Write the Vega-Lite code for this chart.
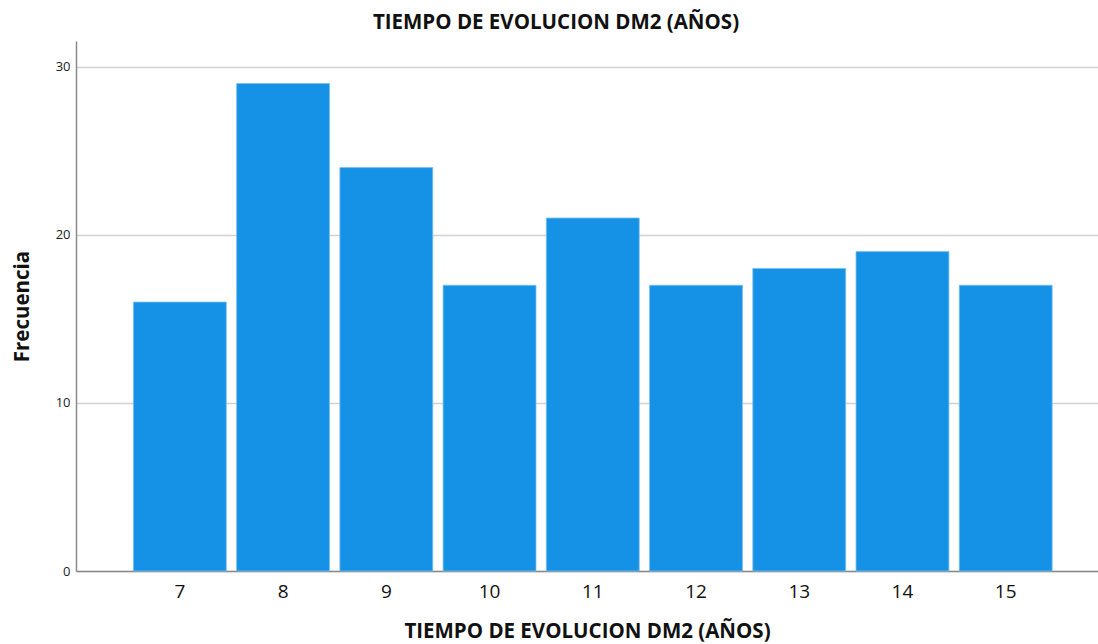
{
  "$schema": "https://vega.github.io/schema/vega-lite/v6.json",
  "width": 1022,
  "height": 530,
  "autosize": "none",
  "padding": {"left": 76, "top": 41, "right": 0, "bottom": 73},
  "background": "white",
  "title": {
    "text": "TIEMPO DE EVOLUCION DM2 (AÑOS)",
    "font": "Open Sans",
    "fontSize": 20.5,
    "fontWeight": "bold",
    "color": "#111111",
    "anchor": "middle",
    "dx": -31,
    "offset": 8
  },
  "data": {
    "values": [
      {"anios": "7", "frecuencia": 16},
      {"anios": "8", "frecuencia": 29},
      {"anios": "9", "frecuencia": 24},
      {"anios": "10", "frecuencia": 17},
      {"anios": "11", "frecuencia": 21},
      {"anios": "12", "frecuencia": 17},
      {"anios": "13", "frecuencia": 18},
      {"anios": "14", "frecuencia": 19},
      {"anios": "15", "frecuencia": 17}
    ]
  },
  "mark": {"type": "bar", "color": "#1591E6", "stroke": "#7cc0f0", "strokeWidth": 0.8},
  "encoding": {
    "x": {
      "field": "anios",
      "type": "ordinal",
      "sort": null,
      "title": "TIEMPO DE EVOLUCION DM2 (AÑOS)",
      "scale": {"paddingInner": 0.1, "paddingOuter": 0.5, "align": 0.556},
      "axis": {
        "labelAngle": 0,
        "labelFont": "Open Sans",
        "labelFontSize": 19,
        "labelColor": "#111111",
        "labelPadding": 11,
        "ticks": false,
        "domainColor": "#8a8a8a",
        "domainWidth": 1.5,
        "titleFont": "Open Sans",
        "titleFontSize": 20.5,
        "titleFontWeight": "bold",
        "titleColor": "#111111",
        "titlePadding": 20,
        "grid": false
      }
    },
    "y": {
      "field": "frecuencia",
      "type": "quantitative",
      "title": "Frecuencia",
      "scale": {"domain": [0, 31.53], "nice": false},
      "axis": {
        "values": [0, 10, 20, 30],
        "labelFont": "Open Sans",
        "labelFontSize": 13,
        "labelColor": "#222222",
        "labelPadding": 6,
        "ticks": false,
        "domainColor": "#8a8a8a",
        "domainWidth": 1.5,
        "gridColor": "#d2d2d2",
        "gridWidth": 1.5,
        "titleFont": "Open Sans",
        "titleFontSize": 20.5,
        "titleFontWeight": "bold",
        "titleColor": "#111111",
        "titlePadding": 23
      }
    }
  },
  "config": {"view": {"stroke": null}}
}
